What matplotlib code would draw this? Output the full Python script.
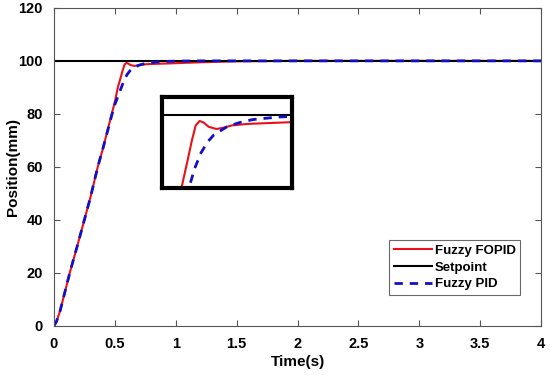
import numpy as np
import matplotlib
matplotlib.use('Agg')
import matplotlib.pyplot as plt

plt.rcParams['font.family'] = ['Liberation Sans', 'DejaVu Sans']
plt.rcParams['font.weight'] = 'bold'

# time (s) and position (mm)
t_fopid = [0, 0.02, 0.05, 0.1, 0.13, 0.2, 0.25, 0.3, 0.36, 0.4, 0.475, 0.5, 0.525,
           0.55, 0.565, 0.58, 0.595, 0.61, 0.63, 0.66, 0.69, 0.72, 0.78, 0.85,
           0.95, 1.1, 1.3, 1.5, 2, 3, 4]
y_fopid = [0, 1.5, 5.5, 14.5, 20, 31.5, 40, 48.5, 60, 66.5, 80, 84.5, 90,
           94, 96.5, 98.6, 99.2, 99.0, 98.4, 98.1, 98.3, 98.6, 98.8, 98.9,
           99.04, 99.3, 99.6, 99.85, 100, 100, 100]

t_pid = [0, 0.02, 0.05, 0.1, 0.13, 0.2, 0.25, 0.3, 0.36, 0.4, 0.475, 0.5, 0.554,
         0.575, 0.6, 0.625, 0.65, 0.7, 0.75, 0.8, 0.9, 1.0, 1.2, 1.5, 2, 3, 4]
y_pid = [0, 1.5, 5.5, 14.5, 20, 31.5, 40, 48.5, 60, 66.5, 79.5, 83.5, 90,
         92.6, 94.8, 96.3, 97.3, 98.4, 99.0, 99.4, 99.75, 99.9, 100, 100, 100, 100, 100]

t_set = [0, 4]
y_set = [100, 100]

x_ticks = [0, 0.5, 1, 1.5, 2, 2.5, 3, 3.5, 4]
x_labels = ['0', '0.5', '1', '1.5', '2', '2.5', '3', '3.5', '4']
y_ticks = [0, 20, 40, 60, 80, 100, 120]

red = '#e8101a'
blue = '#1010c8'

fig = plt.figure(figsize=(5.5, 3.75), dpi=100)
ax = fig.add_axes([0.098, 0.131, 0.886, 0.848])

ax.plot(t_fopid, y_fopid, color=red, lw=1.5, label='Fuzzy FOPID')
ax.plot(t_set, y_set, color='black', lw=1.5, label='Setpoint')
ax.plot(t_pid, y_pid, color=blue, lw=2, ls=(0, (3, 2.5)), label='Fuzzy PID')

ax.set_xlim(0, 4)
ax.set_ylim(0, 120)
ax.set_xticks(x_ticks)
ax.set_xticklabels(x_labels)
ax.set_yticks(y_ticks)
ax.tick_params(direction='in', top=True, right=True, labelsize=10.5,
               length=4, color='#555555')
ax.tick_params(axis='x', pad=8)
ax.tick_params(axis='y', pad=8)
for s in ax.spines.values():
    s.set_color('#555555')
    s.set_linewidth(0.8)
ax.set_xlabel('Time(s)', fontsize=11, fontweight='bold', labelpad=3)
ax.set_ylabel('Position(mm)', fontsize=11, fontweight='bold', labelpad=-1)

leg = ax.legend(loc='lower right', bbox_to_anchor=(0.957, 0.097), fontsize=9.5,
                frameon=True, fancybox=False, handlelength=2.9, handletextpad=0.2,
                borderpad=0.35, labelspacing=0.35, borderaxespad=0.0)
leg.get_frame().set_edgecolor('#444444')
leg.get_frame().set_linewidth(0.8)
for txt in leg.get_texts():
    txt.set_fontweight('bold')

# zoomed inset
axin = fig.add_axes([0.2945, 0.4987, 0.236, 0.2427])
axin.plot(t_fopid, y_fopid, color=red, lw=1.5)
axin.plot(t_set, y_set, color='black', lw=1.5)
axin.plot(t_pid, y_pid, color=blue, lw=2, ls=(0, (3, 2.5)))
axin.set_xlim(0.45, 0.95)
axin.set_ylim(90, 102.5)
axin.set_xticks([])
axin.set_yticks([])
for s in axin.spines.values():
    s.set_color('black')
    s.set_linewidth(3)

fig.savefig('out.png', dpi=100)
